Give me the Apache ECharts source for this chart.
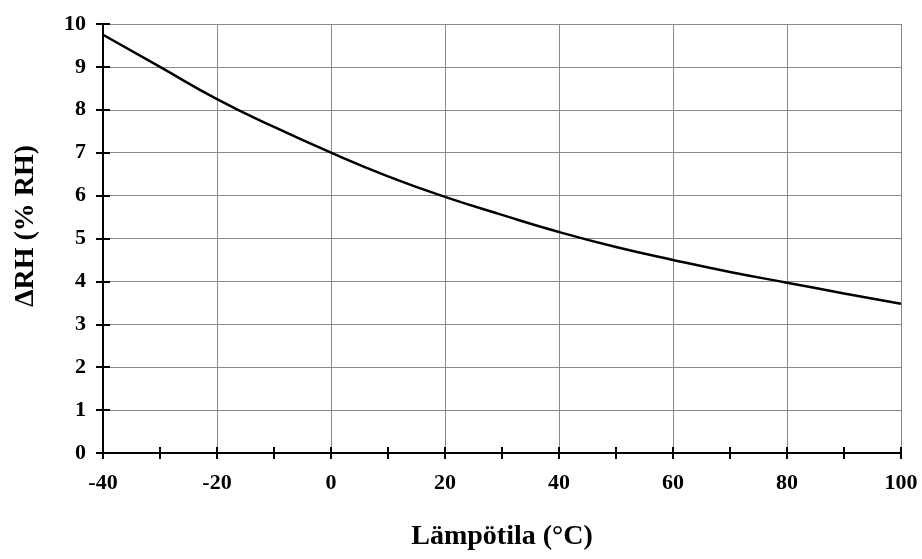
<!DOCTYPE html>
<html>
<head>
<meta charset="utf-8">
<script src="https://cdn.jsdelivr.net/npm/echarts@6/dist/echarts.min.js"></script>
<style>
  html, body { margin: 0; padding: 0; background: #fff; }
  #chart { width: 922px; height: 559px; }
</style>
</head>
<body>
<div id="chart"></div>
<script>
// temperature (°C) and RH change (% RH)
var temps = [-40, -30, -20, -10, 0, 10, 20, 30, 40, 50, 60, 70, 80, 90, 100];
var deltaRH = [9.75, 9.0, 8.25, 7.6, 7.0, 6.45, 5.97, 5.55, 5.15, 4.8, 4.5, 4.22, 3.97, 3.72, 3.48];

var data = [];
for (var i = 0; i < temps.length; i++) {
    data.push([temps[i], deltaRH[i]]);
}

var font = 'Liberation Serif';
var chart = echarts.init(document.getElementById('chart'));

// plot box size, used to slide the 2nd axes over the main ones (ticks crossing the axis line)
var plotW = 922 - 103 - 21;
var plotH = 559 - 24 - 106;

var option = {
    animation: false,
    grid: { left: 103, right: 21, top: 24, bottom: 106 },
    graphic: [
        {
            type: 'text', x: 26, y: 226, rotation: Math.PI / 2,
            style: {
                text: 'ΔRH (% RH)', fontFamily: font, fontWeight: 'bold', fontSize: 28,
                fill: '#000', align: 'center', verticalAlign: 'middle'
            }
        }
    ],
    xAxis: [
        {
            type: 'value', min: -40, max: 100, interval: 20, position: 'bottom',
            name: 'Lämpötila (°C)', nameLocation: 'middle', nameGap: 70,
            nameTextStyle: { fontFamily: font, fontWeight: 'bold', fontSize: 28, color: '#000' },
            axisLine: { onZero: false, lineStyle: { color: '#000', width: 2 } },
            axisTick: { length: 6, lineStyle: { color: '#000', width: 2 } },
            minorTick: { show: true, splitNumber: 2, length: 6, lineStyle: { color: '#000', width: 2 } },
            axisLabel: { margin: 19, fontFamily: font, fontWeight: 'bold', fontSize: 22, color: '#000' },
            splitLine: { lineStyle: { color: '#888', width: 1 } }
        },
        {
            type: 'value', min: -40, max: 100, interval: 20, position: 'top', offset: -plotH,
            axisLine: { show: true, onZero: false, lineStyle: { color: '#000', width: 2 } },
            axisTick: { show: true, length: 6, lineStyle: { color: '#000', width: 2 } },
            minorTick: { show: true, splitNumber: 2, length: 6, lineStyle: { color: '#000', width: 2 } },
            axisLabel: { show: false },
            splitLine: { show: false }
        }
    ],
    yAxis: [
        {
            type: 'value', min: 0, max: 10, interval: 1, position: 'left',
            axisLine: { show: true, onZero: false, lineStyle: { color: '#000', width: 2 } },
            axisTick: { show: true, length: 7, lineStyle: { color: '#000', width: 2 } },
            axisLabel: { margin: 17, fontFamily: font, fontWeight: 'bold', fontSize: 22, color: '#000' },
            splitLine: { lineStyle: { color: '#888', width: 1 } }
        },
        {
            type: 'value', min: 0, max: 10, interval: 1, position: 'right', offset: -plotW,
            axisLine: { show: true, onZero: false, lineStyle: { color: '#000', width: 2 } },
            axisTick: { show: true, length: 7, lineStyle: { color: '#000', width: 2 } },
            axisLabel: { show: false },
            splitLine: { show: false }
        }
    ],
    series: [
        {
            type: 'line',
            data: data,
            smooth: true,
            showSymbol: false,
            lineStyle: { color: '#000', width: 2.5 },
            z: 5
        }
    ]
};

chart.setOption(option);
</script>
</body>
</html>
